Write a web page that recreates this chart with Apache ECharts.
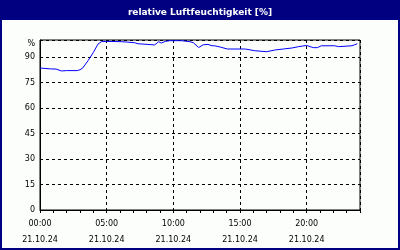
<!DOCTYPE html>
<html>
<head>
<meta charset="utf-8">
<script src="https://cdn.jsdelivr.net/npm/echarts@6/dist/echarts.min.js"></script>
<style>html,body{margin:0;padding:0;background:#fff}#c{width:400px;height:250px}</style>
</head>
<body>
<div id="c"></div>
<script>
const titleText = 'relative Luftfeuchtigkeit [%]';
const dateLabel = '21.10.24';
const hours = [0,0.8,1.2,1.6,2.0,2.8,3.0,3.2,3.6,4.0,4.35,4.6,5.0,6.1,6.5,7.1,7.35,7.5,8.6,8.9,9.1,9.4,9.75,10.6,11.25,11.5,11.9,12.25,12.6,12.9,13.1,13.5,14.05,15.4,16.1,17.0,17.6,18.25,18.9,19.4,20.0,20.1,20.5,20.8,21.1,22.1,22.4,23.4,23.6,23.8];
const humidity = [83.5,83.0,82.9,81.8,82.0,82.0,82.5,83.5,87.8,92.7,97.6,99.0,99.2,99.0,98.8,98.4,97.8,97.1,97.1,99.0,98.2,99.2,99.6,99.6,99.0,98.4,95.6,97.2,97.4,96.6,96.6,95.9,94.7,94.7,93.7,93.1,94.1,94.7,95.3,96.1,96.8,97.4,95.5,95.5,96.6,96.6,96.1,96.6,97.2,97.8];
const yTicks = [0,15,30,45,60,75,90];
const xLabelHours = [0,5,10,15,20];

const data = hours.map((h,i)=>[h,humidity[i]]);
const font = 'DejaVu Sans';
const chart = echarts.init(document.getElementById('c'), null, {renderer:'canvas'});
chart.setOption({
  backgroundColor:'#fcfefc',
  animation:false,
  title:{text:titleText,left:'center',top:3,textStyle:{color:'#fff',fontFamily:font,fontWeight:'bold',fontSize:9}},
  graphic:[
    {type:'rect',shape:{x:0,y:0,width:400,height:20},style:{fill:'#000080'}},
    {type:'rect',shape:{x:1,y:1,width:398,height:248},style:{fill:null,stroke:'#000080',lineWidth:2}}
  ],
  grid:{left:40,right:40,top:40,bottom:40,show:true,borderColor:'#000',borderWidth:1,backgroundColor:'transparent'},
  xAxis:[
    {type:'value',min:0,max:24,interval:5,
     axisLine:{show:true,lineStyle:{color:'#000'}},
     axisTick:{show:false},
     splitLine:{show:true,lineStyle:{color:'#000',type:[3,3],width:1}},
     axisLabel:{margin:6,color:'#000',fontFamily:font,fontSize:8,lineHeight:16,
       formatter:v=> xLabelHours.indexOf(v)>=0 ? String(v).padStart(2,'0')+':00\n'+dateLabel : ''}},
    {type:'value',min:0,max:24,interval:1,position:'bottom',
     axisLine:{show:false},axisLabel:{show:false},splitLine:{show:false},
     axisTick:{show:true,length:3,lineStyle:{color:'#000'}}}
  ],
  yAxis:{type:'value',min:0,max:100,interval:15,
    axisLine:{show:true,lineStyle:{color:'#000'}},
    axisTick:{show:false},
    splitLine:{show:true,lineStyle:{color:'#000',type:[3,3],width:1}},
    axisLabel:{margin:5,color:'#000',fontFamily:font,fontSize:8,
      rich:{p:{fontFamily:font,fontSize:8,color:'#000',padding:[8,0,0,0]}},
      formatter:v=> v===100 ? '{p|%}' : (yTicks.indexOf(v)>=0 ? String(v) : '')}},
  series:[{type:'line',data:data,xAxisIndex:0,showSymbol:false,symbol:'none',
    lineStyle:{color:'#0000ff',width:1}}]
});
</script>
</body>
</html>
